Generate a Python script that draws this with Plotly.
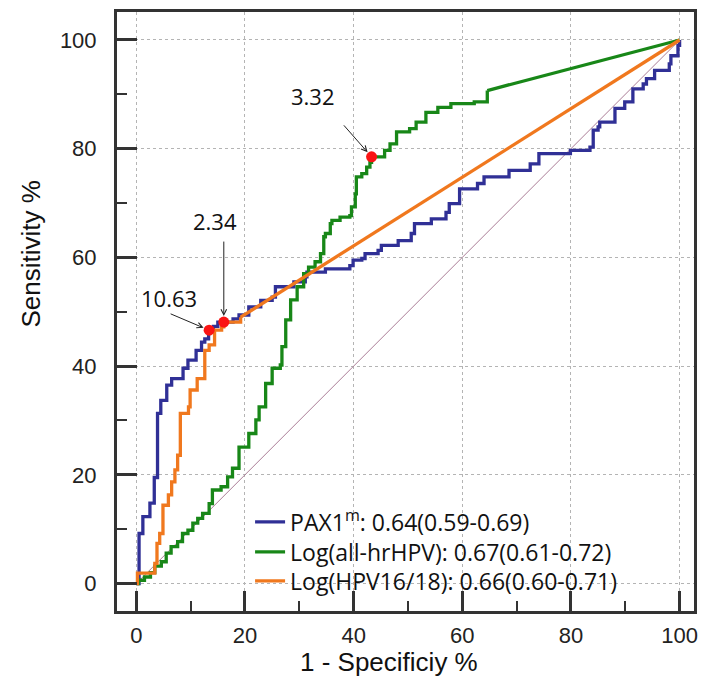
import plotly.graph_objects as go

# ---------------- data ----------------
# PAX1m ROC curve: corner points of the step function (1-specificity %, sensitivity %)
pax_fpr = [0, 0.5, 1.2, 2.5, 3.3, 3.9, 4.5, 5.6, 6.5, 8.6, 9.5, 11.0, 12.0, 12.6, 13.3, 14.2, 15.0,
           17.8, 18.9, 20.7, 22.9, 25.0, 25.6, 29.0, 31.1, 31.4, 34.8, 39.3, 39.9, 41.5, 42.1, 44.5,
           45.1, 48.2, 50.6, 51.2, 54.3, 57.0, 57.6, 59.5, 62.8, 64.0, 68.6, 72.5, 74.1, 79.9, 83.5,
           84.1, 85.0, 85.3, 88.1, 89.9, 91.4, 93.3, 93.9, 95.4, 98.1, 98.4, 99.7, 100]
pax_tpr = [0, 9.2, 12.3, 14.8, 19.5, 31.3, 33.7, 36.5, 37.7, 39.6, 41.1, 42.9, 44.4, 45.0, 46.6, 47.3, 48.1,
           48.7, 49.4, 50.9, 52.1, 52.7, 54.6, 55.5, 56.4, 57.3, 57.9, 58.5, 59.5, 59.8, 60.7, 61.3,
           62.2, 63.1, 64.4, 66.2, 67.1, 68.3, 69.9, 72.6, 73.6, 74.8, 76.0, 77.2, 79.1, 79.7, 80.3,
           83.4, 84.0, 84.9, 87.4, 88.6, 91.0, 91.9, 92.9, 94.4, 95.6, 97.1, 99.0, 100]

# Log(all-hrHPV): step part then straight segment to (100, 100)
hr_fpr = [0, 0.4, 1.5, 2.6, 3.4, 4.6, 5.5, 6.4, 7.6, 8.5, 9.5, 10.4, 11.3, 12.2, 13.4, 14.0, 15.6,
          16.8, 17.7, 18.9, 20.7, 22.0, 22.6, 23.8, 25.0, 26.5, 26.8, 27.5, 28.4, 29.6, 30.8, 31.7,
          32.9, 33.9, 34.5, 34.8, 35.7, 36.0, 37.5, 39.3, 39.6, 40.3, 40.5, 41.5, 42.4, 43.0, 43.3,
          45.7, 46.7, 47.9, 50.3, 51.5, 53.3, 55.5, 57.9, 62.2, 64.6, 64.6]
hr_tpr = [0, 0.6, 1.2, 2.0, 3.2, 4.0, 5.6, 6.8, 7.7, 9.2, 9.8, 11.1, 12.0, 12.9, 14.7, 17.2, 17.8,
          19.6, 21.2, 25.1, 27.6, 30.1, 32.5, 36.8, 39.6, 40.2, 43.6, 48.5, 52.2, 54.6, 57.0, 58.2,
          59.2, 60.7, 63.8, 64.4, 66.2, 66.8, 67.4, 67.7, 69.3, 71.7, 74.8, 75.4, 76.6, 77.5, 78.5,
          79.7, 80.9, 83.1, 83.7, 84.9, 86.7, 87.6, 88.3, 88.6, 89.5, 90.7]
hr_tail_fpr = [64.6, 100]
hr_tail_tpr = [90.7, 100]

# Log(HPV16/18): step part then straight segment to (100, 100)
hpv_fpr = [0, 0.2, 3.4, 3.8, 4.3, 4.9, 5.9, 6.5, 7.1, 7.6, 8.1, 9.6, 9.9, 11.2, 12.6, 13.4, 14.4,
           15.7, 16.1, 19.2]
hpv_tpr = [0, 1.9, 3.7, 7.4, 9.2, 14.4, 16.3, 18.7, 20.9, 23.6, 31.3, 32.5, 35.6, 37.7, 42.9, 43.9, 46.6,
           47.2, 48.1, 49.0]
hpv_tail_fpr = [19.2, 100]
hpv_tail_tpr = [49.0, 100]

ref_fpr = [0, 100]
ref_tpr = [0, 100]

# cut-off points
cut_labels = ["10.63", "2.34", "3.32"]
cut_fpr = [13.4, 16.1, 43.3]
cut_tpr = [46.6, 48.1, 78.5]

series_names = ["PAX1<sup>m</sup>: 0.64(0.59-0.69)",
                "Log(all-hrHPV): 0.67(0.61-0.72)",
                "Log(HPV16/18): 0.66(0.60-0.71)"]

tick_vals = [0, 20, 40, 60, 80, 100]
minor_tick_vals = [10, 30, 50, 70, 90]

# ---------------- styling ----------------
BLUE = "rgb(48,48,150)"
GREEN = "rgb(24,135,24)"
ORANGE = "rgb(240,120,30)"
LW = 3.3

PL, PR, PT, PB = 117, 698, 12, 611
W, H = 705, 676
XR = [-3.56, 102.65]
YR = [-5.06, 105.15]
def px_x(p):
    return (p - PL) / (PR - PL)
def px_y(p):
    return (PB - p) / (PB - PT)

fig = go.Figure()

fig.add_trace(go.Scatter(x=ref_fpr, y=ref_tpr, mode="lines",
                         line=dict(color="rgb(170,125,150)", width=1),
                         showlegend=False, hoverinfo="skip"))

fig.add_trace(go.Scatter(x=pax_fpr, y=pax_tpr, mode="lines", name=series_names[0],
                         line=dict(color=BLUE, width=LW, shape="hv"), legend="legend"))

fig.add_trace(go.Scatter(x=hr_fpr, y=hr_tpr, mode="lines", name=series_names[1],
                         line=dict(color=GREEN, width=LW, shape="hv"), legend="legend2"))
fig.add_trace(go.Scatter(x=hr_tail_fpr, y=hr_tail_tpr, mode="lines", showlegend=False,
                         line=dict(color=GREEN, width=LW)))

fig.add_trace(go.Scatter(x=hpv_fpr, y=hpv_tpr, mode="lines", name=series_names[2],
                         line=dict(color=ORANGE, width=LW, shape="hv"), legend="legend3"))
fig.add_trace(go.Scatter(x=hpv_tail_fpr, y=hpv_tail_tpr, mode="lines", showlegend=False,
                         line=dict(color=ORANGE, width=LW)))

fig.add_trace(go.Scatter(x=cut_fpr, y=cut_tpr, mode="markers", showlegend=False,
                         marker=dict(color="rgb(250,20,20)", size=11)))

# empty trace so that the overlay (minor-tick) axes are instantiated
fig.add_trace(go.Scatter(x=[None], y=[None], xaxis="x2", yaxis="y2", mode="lines",
                         showlegend=False, hoverinfo="skip"))

# ---------------- annotations ----------------
ann_font = dict(family="Open Sans, sans-serif", size=22, color="#111")
arrow_offsets = [(-40, -17), (0, -82), (-29, -33)]
text_pos = [(6.1, 52.5), (14.5, 66.7), (32.6, 89.7)]
annotations = []
for lab, fx, ty, (ax, ay), (tx, tyy) in zip(cut_labels, cut_fpr, cut_tpr, arrow_offsets, text_pos):
    annotations.append(dict(x=fx, y=ty, xref="x", yref="y", text="", showarrow=True,
                            ax=ax, ay=ay, arrowhead=5, arrowsize=1.1, arrowwidth=1,
                            arrowcolor="#222", standoff=6))
    annotations.append(dict(x=tx, y=tyy, xref="x", yref="y", text=lab, showarrow=False,
                            font=ann_font))

title_font = dict(family="Liberation Sans, Arial, sans-serif", size=26, color="#111")
annotations.append(dict(text="1 - Specificiy %", x=px_x(391), y=px_y(662), xref="paper", yref="paper",
                        showarrow=False, font=title_font, xanchor="center", yanchor="middle"))
annotations.append(dict(text="Sensitivity %", x=px_x(30), y=px_y(254), xref="paper", yref="paper",
                        showarrow=False, font=title_font, textangle=-90,
                        xanchor="center", yanchor="middle"))

# main axes: long (major) inside ticks, labels, grid, frame
axis_main = dict(
    tickmode="array", tickvals=tick_vals, ticks="inside", ticklen=20, tickwidth=3, tickcolor="#333",
    showline=True, linecolor="#333", linewidth=3, mirror=True,
    showgrid=True, gridcolor="#b4b4b4", gridwidth=1, griddash="dot",
    zeroline=False,
    tickfont=dict(family="Liberation Sans, Arial, sans-serif", size=22, color="#222"),
)
# overlay axes: short (minor) inside ticks only
axis_minor = dict(
    tickmode="array", tickvals=minor_tick_vals, ticks="inside", ticklen=10, tickwidth=2,
    tickcolor="#333", showticklabels=False, showgrid=False, showline=False, zeroline=False,
)

legend_font = dict(family="Open Sans, sans-serif", size=23, color="#111")
legend_rows = [522, 552, 581]
def legend_box(row_px):
    return dict(x=px_x(251), y=px_y(row_px), xanchor="left", yanchor="middle",
                bgcolor="rgba(0,0,0,0)", borderwidth=0, font=legend_font, itemwidth=30)

fig.update_layout(
    width=W, height=H,
    margin=dict(l=PL, r=W - PR, t=PT, b=H - PB),
    paper_bgcolor="white", plot_bgcolor="white",
    xaxis=dict(range=XR, ticklabelstandoff=3, **axis_main),
    yaxis=dict(range=YR, ticklabelstandoff=13, **axis_main),
    xaxis2=dict(range=XR, overlaying="x", side="bottom", anchor="y2", **axis_minor),
    yaxis2=dict(range=YR, overlaying="y", side="left", anchor="x2", **axis_minor),
    legend=legend_box(legend_rows[0]),
    legend2=legend_box(legend_rows[1]),
    legend3=legend_box(legend_rows[2]),
    annotations=annotations,
    shapes=[dict(type="rect", xref="paper", yref="paper", layer="between",
                 x0=px_x(252), x1=px_x(645), y0=px_y(575), y1=px_y(503),
                 fillcolor="white", line=dict(width=0))],
)

fig.write_html("out.html", config={"displayModeBar": False},
               post_script="document.body.style.margin='0';document.body.style.padding='0';")
